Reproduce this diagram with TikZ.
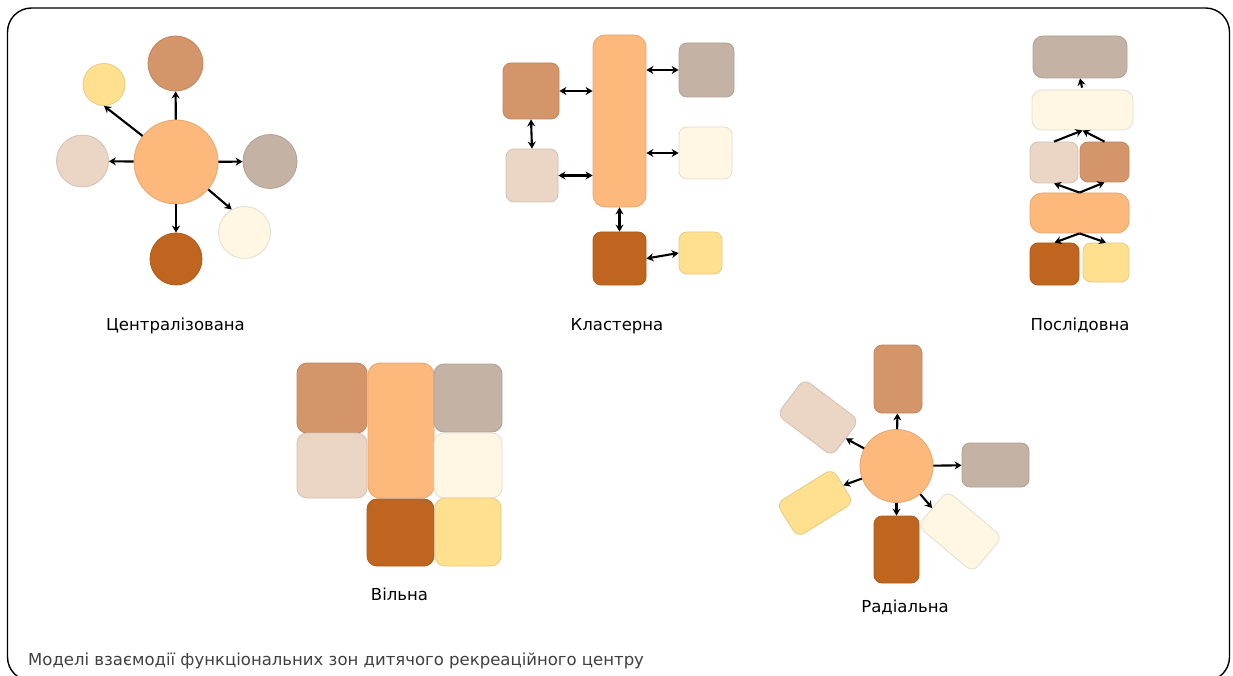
\documentclass[tikz,border=0pt]{standalone}
\usepackage{fontspec}
\setmainfont{DejaVu Sans}
\usetikzlibrary{arrows.meta}
\definecolor{cBrown}{HTML}{D4956A}
\definecolor{cPeach}{HTML}{FDB97C}
\definecolor{cTaupe}{HTML}{C4B2A4}
\definecolor{cBeige}{HTML}{EBD6C6}
\definecolor{cCream}{HTML}{FFF6E4}
\definecolor{cDark}{HTML}{C0651F}
\definecolor{cYellow}{HTML}{FFE08F}
\tikzset{
  zone/.style={inner sep=0pt, fill=#1, draw=#1!90!black, line width=0.8pt},
  circ/.style={zone=#1, circle},
  box/.style={zone=#1, rectangle, rounded corners=8pt},
  tip/.tip={Stealth[length=7pt,width=8pt]},
  arr/.style={-tip, line width=2.1pt},
  darr/.style={tip-tip, line width=2.1pt},
  lbl/.style={font=\fontsize{16.5}{18}\selectfont, anchor=base, inner sep=0pt},
  captiontext/.style={font=\fontsize{16.5}{18}\selectfont, anchor=base west, inner sep=0pt, text=black!75},
}
\begin{document}
\begin{tikzpicture}[x=1pt,y=-1pt]
\useasboundingbox (0,0) rectangle (1233,676);
\fill[white] (0,0) rectangle (1233,676);
\begin{scope}
\clip (0,0) rectangle (1233,676);
\draw[line width=1.4pt, rounded corners=24pt] (7.5,8) rectangle (1229.5,681);
\end{scope}

% ---------- Centralized ----------
\node[circ=cPeach, minimum size=84pt] (cc) at (176,162) {};
\node[circ=cBrown, minimum size=55pt] (ct) at (175.5,63.5) {};
\node[circ=cYellow, minimum size=42pt] (cy) at (104,84.5) {};
\node[circ=cBeige, minimum size=52pt] (cl) at (82.5,161) {};
\node[circ=cTaupe, minimum size=54pt] (cr) at (270,161.5) {};
\node[circ=cCream, minimum size=52pt] (cbr) at (244.5,232.5) {};
\node[circ=cDark, minimum size=52pt] (cb) at (176,259) {};
\draw[arr] (cc) -- (ct);
\draw[arr] (cc) -- (cy.south);
\draw[arr] (cc) -- (cl);
\draw[arr] (cc) -- (cr);
\draw[arr] (cc) -- (cbr.119);
\draw[arr] (cc) -- (cb);
\node[lbl] (lc) at (175.5,330) {Централізована};

% ---------- Cluster ----------
\node[box=cPeach, rounded corners=12pt, minimum width=53pt, minimum height=172pt] (kbar) at (619.5,121) {};
\node[box=cBrown, minimum width=56pt, minimum height=56pt] (ktl) at (531,91) {};
\node[box=cBeige, minimum width=52pt, minimum height=53pt] (kll) at (532,175.5) {};
\node[box=cTaupe, minimum width=55pt, minimum height=54pt] (ktr) at (706.5,70) {};
\node[box=cCream, minimum width=53pt, minimum height=52pt] (kmr) at (705.5,153) {};
\node[box=cDark, minimum width=53pt, minimum height=53pt] (kb) at (619.5,258.5) {};
\node[box=cYellow, minimum width=43pt, minimum height=42pt] (ky) at (700.5,253) {};
\draw[darr] (ktl.east) -- (ktl.east -| kbar.west);
\draw[darr] (ktl.south) -- (kll.north);
\draw[darr] (kll.east) -- (kll.east -| kbar.west);
\draw[darr] (kbar.east |- ktr) -- (ktr.west);
\draw[darr] (kbar.east |- kmr) -- (kmr.west);
\draw[darr] (kbar.south) -- (kb.north);
\draw[darr] (kb.east) -- (ky.west);
\node[lbl] (lk) at (617,330) {Кластерна};

% ---------- Sequential ----------
\node[box=cTaupe, rounded corners=10pt, minimum width=94pt, minimum height=42pt] (s1) at (1080,57) {};
\node[box=cCream, rounded corners=10pt, minimum width=101pt, minimum height=40pt] (s2) at (1082.5,110) {};
\node[box=cBeige, minimum width=48pt, minimum height=41pt] (s3l) at (1054,162.5) {};
\node[box=cBrown, minimum width=49pt, minimum height=40pt] (s3r) at (1104.5,162) {};
\node[box=cPeach, rounded corners=12pt, minimum width=99pt, minimum height=40pt] (s4) at (1079.5,213) {};
\node[box=cDark, minimum width=49pt, minimum height=42pt] (s5l) at (1054.5,264) {};
\node[box=cYellow, minimum width=46pt, minimum height=39pt] (s5r) at (1106,262.5) {};
\draw[arr, shorten <=2pt] (s2.north) -- (s1.south);
\draw[arr] (s3l.north) -- (s2.south);
\draw[arr] (s3r.north) -- (s2.south);
\draw[arr] (s4.north) -- (s3l.south);
\draw[arr] (s4.north) -- (s3r.south);
\draw[arr] (s4.south) -- (s5l.north);
\draw[arr] (s4.south) -- (s5r.north);
\node[lbl] (ls) at (1080,330) {Послідовна};

% ---------- Free ----------
\node[box=cBrown, rounded corners=10pt, minimum width=70pt, minimum height=70pt] (f1) at (332,398) {};
\node[box=cPeach, rounded corners=12pt, minimum width=66pt, minimum height=135pt] (f2) at (401,430.5) {};
\node[box=cTaupe, rounded corners=10pt, minimum width=68pt, minimum height=68pt] (f3) at (468,398) {};
\node[box=cBeige, rounded corners=10pt, minimum width=70pt, minimum height=65pt] (f4) at (332,465.5) {};
\node[box=cCream, rounded corners=10pt, minimum width=68pt, minimum height=65pt] (f5) at (468,465.5) {};
\node[box=cDark, rounded corners=10pt, minimum width=67pt, minimum height=67pt] (f6) at (400.5,532.5) {};
\node[box=cYellow, rounded corners=10pt, minimum width=66pt, minimum height=68pt] (f7) at (468,532) {};
\node[lbl] (lf) at (399.5,600) {Вільна};

% ---------- Radial ----------
\node[circ=cPeach, minimum size=73pt] (rc) at (896.5,466) {};
\node[box=cBrown, minimum width=48pt, minimum height=68pt] (rt) at (898,379) {};
\node[box=cTaupe, minimum width=67pt, minimum height=44pt] (rr) at (995.5,465) {};
\node[box=cDark, minimum width=45pt, minimum height=67pt] (rb) at (896.5,549.5) {};
\node[box=cBeige, minimum width=69pt, minimum height=45pt, rotate=-37] (rul) at (818,417.5) {};
\node[box=cYellow, minimum width=66pt, minimum height=40pt, rotate=32] (rll) at (815,503) {};
\node[box=cCream, minimum width=72pt, minimum height=46pt, rotate=-40] (rlr) at (960,531.5) {};
\draw[arr] (rc) -- (rt);
\draw[arr] (rc) -- (rr);
\draw[arr] (rc) -- (rb);
\draw[arr] (rc) -- (rul.east);
\draw[arr] (rc) -- (rll.east);
\draw[arr] (rc) -- (rlr.west);
\node[lbl] (lr) at (905,612) {Радіальна};

% ---------- Caption ----------
\node[captiontext] (caption) at (28,665) {Моделі взаємодії функціональних зон дитячого рекреаційного центру};
\end{tikzpicture}
\end{document}
